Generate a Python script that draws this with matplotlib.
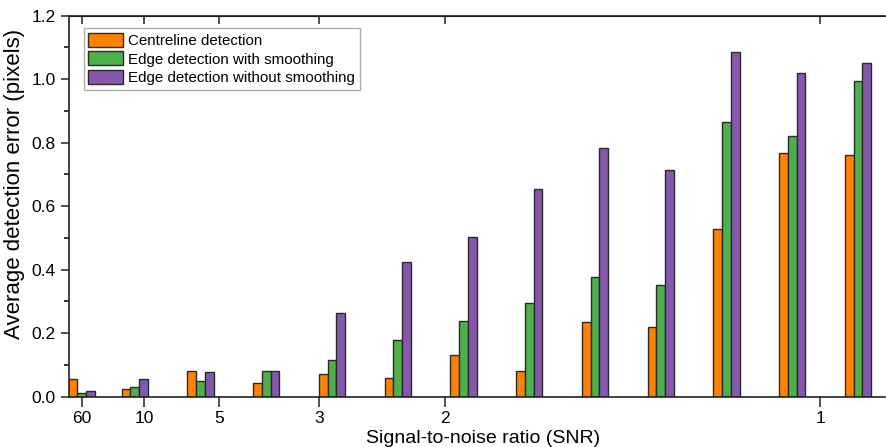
import numpy as np
import matplotlib.pyplot as plt
from matplotlib.ticker import MultipleLocator

plt.rcParams['font.family'] = ['Liberation Sans', 'DejaVu Sans']

# x positions are 1/SNR
inv_snr = [1 / 60, 0.0875, 0.175, 0.2625, 0.35, 0.4375, 0.525,
           0.6125, 0.7, 0.7875, 0.875, 0.9625, 1.05]
centreline = [0.055, 0.024, 0.080, 0.042, 0.071, 0.059, 0.131,
              0.081, 0.236, 0.219, 0.528, 0.767, 0.760]
edge_smooth = [0.011, 0.031, 0.049, 0.080, 0.116, 0.179, 0.238,
               0.294, 0.377, 0.353, 0.866, 0.820, 0.993]
edge_nosmooth = [0.017, 0.055, 0.077, 0.080, 0.265, 0.423, 0.504,
                 0.654, 0.783, 0.715, 1.085, 1.019, 1.051]
snr_ticks = [60, 10, 5, 3, 2, 1]
labels = ['Centreline detection', 'Edge detection with smoothing',
          'Edge detection without smoothing']
colors = ['#ff8200', '#4db04a', '#8558ae']

fig = plt.figure(figsize=(8.86, 4.47), dpi=100)
ax = fig.add_axes([69 / 886, 1 - 396.7 / 447, 816 / 886, 381 / 447])

x = np.array(inv_snr)
w = 0.0116
series = [centreline, edge_smooth, edge_nosmooth]
for i, (vals, c, lab) in enumerate(zip(series, colors, labels)):
    ax.bar(x + (i - 1) * w, vals, width=w, color=c, edgecolor='#2a2a2a',
           linewidth=1.0, label=lab)

ax.set_xlim(0, 1.086)
ax.set_ylim(0, 1.2)
ax.set_xticks([1 / s for s in snr_ticks])
ax.set_xticklabels([str(s) for s in snr_ticks])
ax.yaxis.set_major_locator(MultipleLocator(0.2))
ax.yaxis.set_minor_locator(MultipleLocator(0.1))
ax.yaxis.set_major_formatter(plt.FormatStrFormatter('%.1f'))

ax.tick_params(axis='both', labelsize=12.5, width=1.1, color='#222222')
ax.tick_params(axis='x', which='major', length=7, direction='out', top=False)
ax.tick_params(axis='y', which='major', length=6, direction='out')
ax.tick_params(axis='y', which='minor', length=3.5, direction='out', width=1.1)
ax.spines['right'].set_visible(False)
for s in ['left', 'bottom', 'top']:
    ax.spines[s].set_linewidth(1.2)
    ax.spines[s].set_color('#222222')

# inward ticks on the top spine
axt = ax.secondary_xaxis('top')
axt.set_xticks([1 / s for s in snr_ticks])
axt.tick_params(direction='in', length=6, width=1.1, labeltop=False, color='#222222')
axt.set_xticklabels([])

ax.set_xlabel('Signal-to-noise ratio (SNR)', fontsize=14)
ax.xaxis.set_label_coords(0.507, -0.088)
ax.set_ylabel('Average detection error (pixels)', fontsize=16)
ax.yaxis.set_label_coords(-0.054, 0.558)

leg = ax.legend(loc='upper left', bbox_to_anchor=(0.018, 0.967), fontsize=10.9,
                frameon=True, fancybox=False, edgecolor='#999999',
                handlelength=2.3, handleheight=1.05, labelspacing=0.22,
                handletextpad=0.35, borderpad=0.3, borderaxespad=0)
leg.get_frame().set_linewidth(1.0)

fig.savefig('out.png', dpi=100)
